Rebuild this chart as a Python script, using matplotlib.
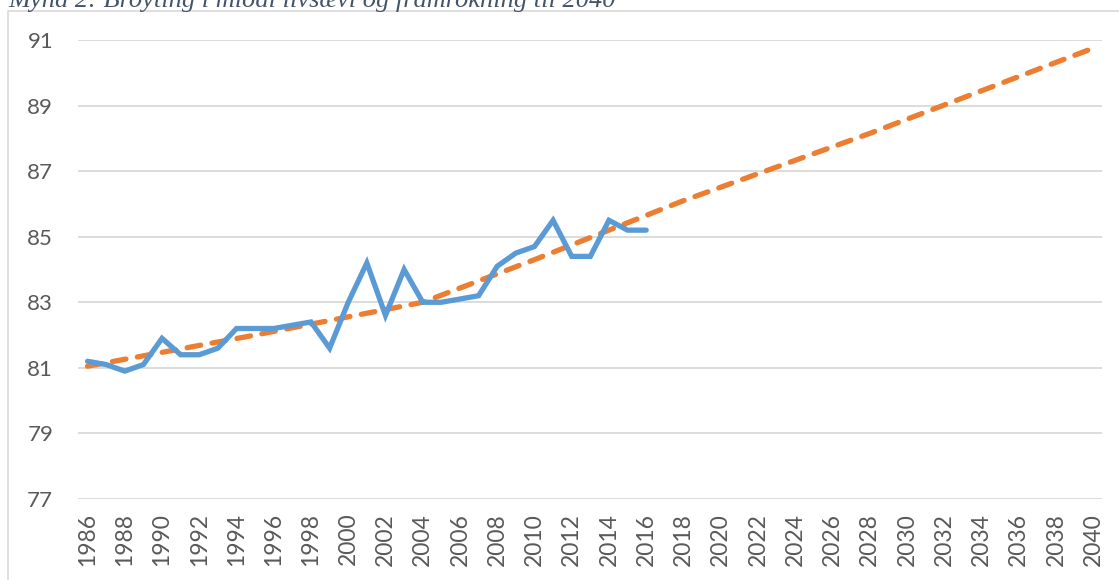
import matplotlib
matplotlib.use("Agg")
import matplotlib.pyplot as plt
from matplotlib.patches import Rectangle

# observed average life expectancy, 1986-2016
years = list(range(1986, 2017))
life = [81.2, 81.1, 80.9, 81.1, 81.9, 81.4, 81.4, 81.6, 82.2, 82.2,
        82.2, 82.3, 82.4, 81.6, 83.0, 84.2, 82.6, 84.0, 83.0, 83.0,
        83.1, 83.2, 84.1, 84.5, 84.7, 85.5, 84.4, 84.4, 85.5, 85.2,
        85.2]

# projection
proj_years = [1986, 1995, 2004, 2010, 2018, 2028, 2040]
proj_vals = [81.05, 82.0, 83.0, 84.3, 86.1, 88.15, 90.75]

all_years = list(range(1986, 2041))
tick_labels = [str(y) for y in all_years[::2]]
y_ticks = [77, 79, 81, 83, 85, 87, 89, 91]

title = "Mynd 2: Broyting í miðal lívsævi og framrokning til 2040"

plt.rcParams['font.family'] = ['Lato', 'DejaVu Sans']

fig = plt.figure(figsize=(11.19, 5.80), dpi=100)
ax = fig.add_axes([0.0699, 0.1397, 0.9153, 0.7913])

# chart frame (cropped at right and bottom)
fig.patches.append(Rectangle((8 / 1119, -0.05), 1.2, 1 - 10.5 / 580 + 0.05,
                             transform=fig.transFigure, fill=False,
                             edgecolor='#D9D9D9', linewidth=1.2))

ax.plot(years, life, color='#5B9BD5', linewidth=3.8,
        solid_joinstyle='miter', solid_capstyle='round', zorder=3)
ax.plot(proj_years, proj_vals, color='#ED7D31', linewidth=3.8,
        linestyle=(0, (2.6, 2.2)), dash_capstyle='round', zorder=2)

ax.set_xlim(all_years[0] - 0.5, all_years[-1] + 0.5)
ax.set_ylim(77, 91)
ax.set_yticks(y_ticks)
ax.set_yticklabels([str(v) for v in y_ticks])
ax.set_xticks(all_years[::2])
ax.set_xticklabels(tick_labels, rotation=90)

ax.grid(axis='y', color='#D9D9D9', linewidth=1.3)
ax.set_axisbelow(True)
for side in ['top', 'right', 'left', 'bottom']:
    ax.spines[side].set_visible(False)
ax.tick_params(axis='both', length=0, colors='#595959')
ax.tick_params(axis='y', pad=18, labelsize=16)
ax.tick_params(axis='x', pad=10, labelsize=16.5)

fig.text(8 / 1119, 1 - 7.5 / 580, title, fontsize=19, style='italic',
         family='Liberation Serif', color='#44546A', va='baseline', ha='left')

fig.savefig("out.png", dpi=100)
